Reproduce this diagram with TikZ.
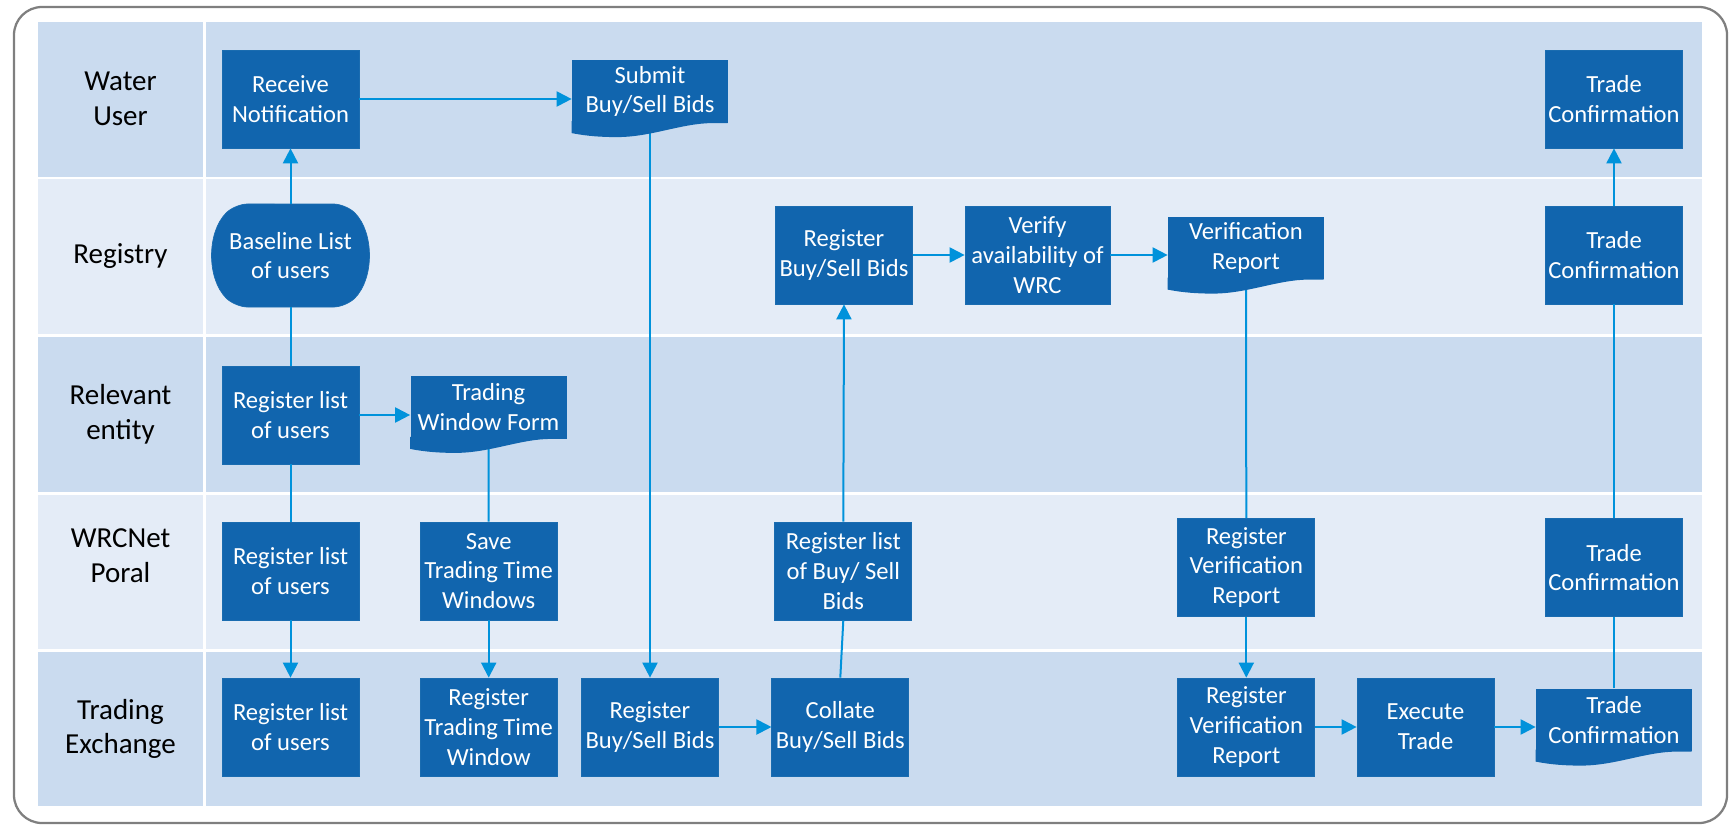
\documentclass[tikz,border=0pt]{standalone}
\usepackage{fontspec}
\setmainfont{Carlito}
\usepackage{tikz}
\usetikzlibrary{shapes.misc, arrows.meta}

\definecolor{lanedark}{HTML}{CADBEF}
\definecolor{lanelight}{HTML}{E4ECF7}
\definecolor{boxblue}{HTML}{1165AE}
\definecolor{boxedge}{HTML}{1A6CB0}
\definecolor{flowblue}{HTML}{0092DB}
\definecolor{framegray}{HTML}{7F7F7F}

\tikzstyle{proc} = [rectangle, minimum width=27.4mm, minimum height=19.6mm, inner sep=1pt, align=center, text=white, fill=boxblue, draw=boxedge, font=\fontsize{14}{17}\selectfont]
\tikzstyle{docu} = [rectangle, minimum width=31.2mm, minimum height=12.5mm, inner sep=1pt, align=center, text=white, fill=boxblue, font=\fontsize{14}{17}\selectfont]
\tikzstyle{store} = [rounded rectangle, rounded rectangle arc length=90, rounded corners=2.5mm, minimum width=31.4mm, minimum height=20.6mm, inner sep=1pt, align=center, text=white, fill=boxblue, draw=boxedge, font=\fontsize{14}{17}\selectfont]
\tikzstyle{lanelabel} = [align=center, text=black, font=\fontsize{16.5}{19.8}\selectfont]
\tikzstyle{arrow} = [flowblue, line width=0.4mm, -{Triangle[width=3mm,length=3mm]}]
\tikzstyle{link} = [flowblue, line width=0.4mm]

% wavy bottom of a document node
\newcommand{\docwave}[1]{\fill[boxblue, shift={(#1.south west)}] (0,-2) -- (0,10) .. controls (15,13) and (30,14) .. (45,14) .. controls (80,14) and (110,0) .. (141,0) -- (156,0) -- (156,-2) -- cycle;}

\begin{document}
\begin{tikzpicture}[x=0.2mm, y=-0.2mm]
    \useasboundingbox (0,0) rectangle (1731,828);
    % Frame
    \draw[framegray, line width=0.45mm, rounded corners=5.6mm] (14,7) rectangle (1727,823);

    % Lanes
    \fill[lanedark] (38,22) rectangle (1702,176.5);
    \fill[lanelight] (38,179) rectangle (1702,334);
    \fill[lanedark] (38,337) rectangle (1702,491.5);
    \fill[lanelight] (38,494.5) rectangle (1702,649);
    \fill[lanedark] (38,652) rectangle (1702,806);
    \draw[white, line width=0.6mm] (204.5,22) -- (204.5,806);

    % Lane labels
    \node[lanelabel] (lwu) at (120.5,99) {Water\\User};
    \node[lanelabel] (lreg) at (120.5,256.5) {Registry};
    \node[lanelabel] (lre) at (120.5,414) {Relevant\\entity};
    \node[lanelabel] (lwrc) at (120.5,556) {WRCNet\\Poral};
    \node[lanelabel] (lte) at (120.5,729) {Trading\\Exchange};

    % Water User
    \node[proc] (rn) at (290.5,99) {Receive\\Notification};
    \node[docu] (sub) at (650,91.5) {Submit\\Buy/Sell Bids};
    \node[proc] (tcw) at (1614,99) {Trade\\Confirmation};

    % Registry
    \node[store] (base) at (290.5,255.5) {Baseline List\\of users};
    \node[proc] (rbr) at (844,255) {Register\\Buy/Sell Bids};
    \node[proc, minimum width=29mm] (ver) at (1037.5,255) {Verify\\availability of\\WRC};
    \node[docu] (vrep) at (1246,248) {Verification\\Report};
    \node[proc] (tcr) at (1614,255) {Trade\\Confirmation};

    % Relevant entity
    \node[proc] (rlr) at (290.5,415) {Register list\\of users};
    \node[docu] (twf) at (488.5,407.3) {Trading\\Window Form};

    % WRCNet Poral
    \node[proc] (rlw) at (290.5,571) {Register list\\of users};
    \node[proc] (save) at (488.7,571) {Save\\Trading Time\\Windows};
    \node[proc] (rlb) at (843.3,571) {Register list\\of Buy/ Sell\\Bids};
    \node[proc] (rvw) at (1246.3,567.5) {Register\\Verification\\Report};
    \node[proc] (tcwr) at (1614,567.5) {Trade\\Confirmation};

    % Trading Exchange
    \node[proc] (rlt) at (290.5,727) {Register list\\of users};
    \node[proc] (rtt) at (488.7,727) {Register\\Trading Time\\Window};
    \node[proc] (rbt) at (650,727) {Register\\Buy/Sell Bids};
    \node[proc] (col) at (840.3,727) {Collate\\Buy/Sell Bids};
    \node[proc] (rvt) at (1246.3,727) {Register\\Verification\\Report};
    \node[proc] (exe) at (1425.5,727) {Execute\\Trade};
    \node[docu] (tct) at (1614,720) {Trade\\Confirmation};

    % Connectors
    \draw[arrow] (base.north) -- (rn.south);
    \draw[link] (rlr.north) -- (base.south);
    \draw[link] (rlr.south) -- (rlw.north);
    \draw[arrow] (rlw.south) -- (rlt.north);
    \draw[arrow] (rlr.east) -- (rlr.east -| twf.west);
    \draw[link] (twf.south) -- (save.north);
    \draw[arrow] (save.south) -- (rtt.north);
    \draw[arrow] (rn.east) -- (rn.east -| sub.west);
    \draw[arrow] (sub.south) -- (rbt.north);
    \draw[arrow] (rbt.east) -- (col.west);
    \draw[link] (col.north) -- (rlb.south);
    \draw[arrow] (rlb.north) -- (rbr.south);
    \draw[arrow] (rbr.east) -- (ver.west);
    \draw[arrow] (ver.east) -- (ver.east -| vrep.west);
    \draw[link] (vrep.south) -- (rvw.north);
    \draw[arrow] (rvw.south) -- (rvt.north);
    \draw[arrow] (rvt.east) -- (exe.west);
    \draw[arrow] (exe.east) -- (exe.east -| tct.west);
    \draw[link] (tct.north) -- (tcwr.south);
    \draw[link] (tcwr.north) -- (tcr.south);
    \draw[arrow] (tcr.north) -- (tcw.south);

    % Document bottoms
    \docwave{sub}
    \docwave{vrep}
    \docwave{twf}
    \docwave{tct}
\end{tikzpicture}
\end{document}
